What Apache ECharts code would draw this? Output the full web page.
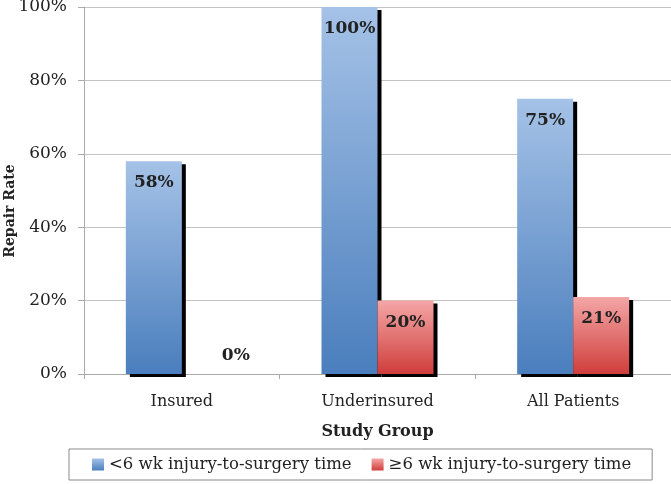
<!DOCTYPE html>
<html>
<head>
<meta charset="utf-8">
<script src="https://cdn.jsdelivr.net/npm/echarts@6/dist/echarts.min.js"></script>
<style>
  html, body { margin: 0; padding: 0; background: #fff; }
  #main { width: 671px; height: 484px; }
</style>
</head>
<body>
<div id="main"></div>
<script>
// data
var categories = ['Insured', 'Underinsured', 'All Patients'];
var seriesNames = ['<6 wk injury-to-surgery time', '\u22656 wk injury-to-surgery time'];
var earlyRepair = [58, 100, 75];   // <6 wk
var lateRepair = [0, 20, 21];      // >=6 wk
var yTicks = [0, 20, 40, 60, 80, 100];

var serif = '"DejaVu Serif", serif';

var myChart = echarts.init(document.getElementById('main'));

function grad(top, bottom) {
  return new echarts.graphic.LinearGradient(0, 0, 0, 1, [
    { offset: 0, color: top },
    { offset: 1, color: bottom }
  ]);
}

var barLabel = {
  show: true,
  position: 'insideTop',
  distance: 13,
  formatter: '{c}%',
  color: '#222',
  fontFamily: serif,
  fontWeight: 'bold',
  fontSize: 17
};

var shadow = {
  shadowColor: '#000',
  shadowOffsetX: 4,
  shadowOffsetY: 3,
  shadowBlur: 0
};

var option = {
  animation: false,
  textStyle: { fontFamily: serif },
  grid: { left: 84, right: 0, top: 7, bottom: 110, containLabel: false, outerBoundsMode: 'none' },
  // y axis title, placed a little below the middle as in the original
  graphic: [{
    type: 'text',
    x: 10,
    y: 211,
    rotation: Math.PI / 2,
    style: {
      text: 'Repair Rate',
      fill: '#222',
      font: 'bold 14px "DejaVu Serif", serif',
      align: 'center',
      verticalAlign: 'middle'
    }
  }],
  legend: {
    left: 69,
    top: 449,
    padding: [7, 21, 7, 23],
    itemGap: 20,
    itemWidth: 12,
    itemHeight: 12,
    icon: 'rect',
    borderColor: '#8a8a8a',
    borderWidth: 1,
    borderRadius: 0,
    textStyle: { fontFamily: serif, fontSize: 16.5, color: '#222' },
    data: seriesNames
  },
  xAxis: {
    type: 'category',
    data: categories,
    name: 'Study Group',
    nameLocation: 'middle',
    nameGap: 50,
    nameTextStyle: { fontFamily: serif, fontWeight: 'bold', fontSize: 16, color: '#222' },
    axisLine: { lineStyle: { color: '#aaa' } },
    axisTick: { show: true, length: 5, lineStyle: { color: '#aaa' } },
    axisLabel: { margin: 20, fontFamily: serif, fontSize: 16, color: '#222' }
  },
  yAxis: {
    type: 'value',
    min: 0,
    max: 100,
    interval: 20,
    axisLine: { show: true, lineStyle: { color: '#aaa' } },
    axisTick: { show: true, length: 6, lineStyle: { color: '#aaa' } },
    axisLabel: {
      margin: 17,
      fontFamily: serif,
      fontSize: 17,
      color: '#222',
      formatter: function (v) { return yTicks.indexOf(v) >= 0 ? v + '%' : ''; }
    },
    splitLine: { lineStyle: { color: '#c4c4c4' } }
  },
  series: [
    {
      name: seriesNames[0],
      type: 'bar',
      data: earlyRepair,
      barWidth: 56,
      barGap: '0%',
      itemStyle: Object.assign({ color: grad('#a5c2e7', '#4a7ebd') }, shadow),
      label: barLabel
    },
    {
      name: seriesNames[1],
      type: 'bar',
      data: lateRepair.map(function (v) {
        return v === 0
          ? {
              value: v,
              label: { position: 'top', distance: 10, offset: [26, 0] },
              itemStyle: { shadowColor: 'transparent' }
            }
          : v;
      }),
      barWidth: 56,
      barGap: '0%',
      itemStyle: Object.assign({ color: grad('#f4a6a6', '#cf3e3b') }, shadow),
      label: barLabel
    }
  ]
};

myChart.setOption(option);
</script>
</body>
</html>
